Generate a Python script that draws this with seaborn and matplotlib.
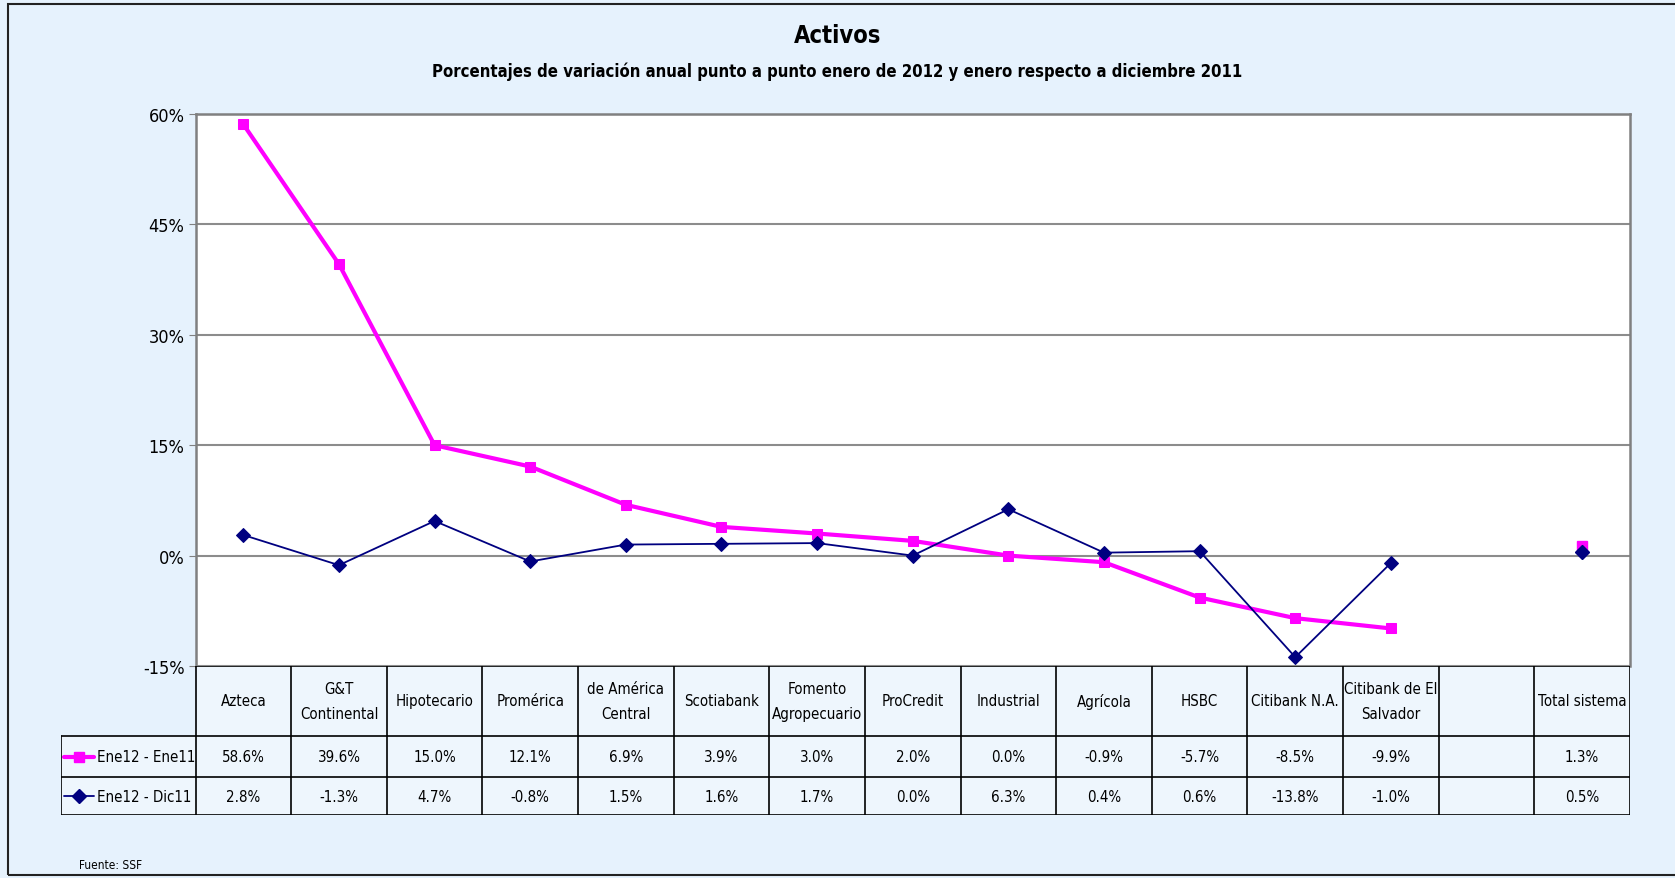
# Activos: variación anual - line chart with data table underneath
import numpy as np
import matplotlib
matplotlib.use("Agg")
import matplotlib.pyplot as plt
import seaborn as sns
from matplotlib.lines import Line2D
from matplotlib.patches import Rectangle
from matplotlib import font_manager

sns.set_style("white")

# pick a narrow font if one is installed
narrow = None
for fam, st in [("Liberation Sans Narrow", "normal"), ("DejaVu Sans", "condensed")]:
    try:
        path = font_manager.findfont(font_manager.FontProperties(family=fam, stretch=st),
                                     fallback_to_default=False)
    except Exception:
        continue
    if "Narrow" in path or "Condensed" in path:
        narrow = (fam, st)
        break
if narrow:
    plt.rcParams['font.family'] = [narrow[0], 'DejaVu Sans']
    plt.rcParams['font.stretch'] = narrow[1]
    scale = 1.0
else:
    plt.rcParams['font.family'] = ['Liberation Sans', 'DejaVu Sans']
    scale = 0.88
plt.rcParams['text.color'] = 'black'
plt.rcParams['ytick.color'] = 'black'

# data
bancos = ["Azteca", "G&T\nContinental", "Hipotecario", "Promérica", "de América\nCentral",
          "Scotiabank", "Fomento\nAgropecuario", "ProCredit", "Industrial", "Agrícola",
          "HSBC", "Citibank N.A.", "Citibank de El\nSalvador", "", "Total sistema"]
ene12_ene11 = [58.6, 39.6, 15.0, 12.1, 6.9, 3.9, 3.0, 2.0, 0.0, -0.9, -5.7, -8.5, -9.9, np.nan, 1.3]
ene12_dic11 = [2.8, -1.3, 4.7, -0.8, 1.5, 1.6, 1.7, 0.0, 6.3, 0.4, 0.6, -13.8, -1.0, np.nan, 0.5]
series_names = ["Ene12 - Ene11", "Ene12 - Dic11"]
yticks = [-15, 0, 15, 30, 45, 60]

magenta = "#FF00FF"
navy = "#000080"
bg = "#e6f2fd"
fs = 10.8 * scale

W, H = 1675, 879
fig = plt.figure(figsize=(W / 100, H / 100), dpi=100)
fig.patch.set_facecolor(bg)

def fx(px):
    return px / W

def fy(py):
    return 1 - py / H

# figure frame
fig.patches.append(Rectangle((fx(8), fy(876)), fx(1675 + 20) - fx(8), fy(5) - fy(876),
                             transform=fig.transFigure, fill=False, edgecolor="#222222",
                             lw=1.5, zorder=0))

# main plot area
left, right, top, bottom = 195.5, 1630, 115, 667
ax = fig.add_axes([fx(left), fy(bottom), fx(right) - fx(left), fy(top) - fy(bottom)])
ax.set_facecolor("white")

x = np.arange(len(bancos))
n_main = 13
sns.lineplot(x=x[:n_main], y=ene12_ene11[:n_main], ax=ax, color=magenta, lw=3,
             marker="s", markersize=7.5, markeredgecolor=magenta, zorder=3)
sns.lineplot(x=x[:n_main], y=ene12_dic11[:n_main], ax=ax, color=navy, lw=1.3,
             marker="D", markersize=7, markeredgecolor=navy, zorder=4)
ax.plot(x[-1], ene12_ene11[-1], marker="s", color=magenta, markersize=7.5, ls="none", zorder=3)
ax.plot(x[-1], ene12_dic11[-1], marker="D", color=navy, markersize=7, ls="none", zorder=4)

ax.set_xlim(-0.5, len(bancos) - 0.5)
ax.set_ylim(-15, 60)
ax.set_yticks(yticks)
ax.set_yticklabels([f"{t}%" for t in yticks], fontsize=13 * scale)
ax.set_xticks([])
ax.yaxis.grid(True, color="#8c8c8c", lw=1.5)
ax.set_axisbelow(True)
ax.tick_params(axis="y", length=5, color="#808080", direction="out", left=True, pad=3)
for side in ["top", "right", "left"]:
    ax.spines[side].set_color("#808080")
    ax.spines[side].set_linewidth(1.8)
ax.spines["bottom"].set_visible(False)

# titles
fig.text(0.5, fy(36), "Activos", ha="center", va="center", fontsize=17 * scale, fontweight="bold")
fig.text(0.5, fy(72), "Porcentajes de variación anual punto a punto enero de 2012 y enero respecto a diciembre 2011",
         ha="center", va="center", fontsize=12 * scale, fontweight="bold")

# data table
tleft = 61
colw = (right - left) / len(bancos)
x0 = -0.5 - (left - tleft) / colw
tax = fig.add_axes([fx(tleft), fy(816), fx(right) - fx(tleft), fy(667) - fy(816)])
tax.set_xlim(x0, len(bancos) - 0.5)
tax.set_ylim(816, 667)
tax.axis("off")

y_head, y_r1, y_r2, y_end = 667, 737, 778, 816
tax.add_patch(Rectangle((-0.5, y_head), len(bancos), y_end - y_head, color="#eef6fd", zorder=0))
tax.add_patch(Rectangle((x0, y_r1), -0.5 - x0, y_end - y_r1, color="#eef6fd", zorder=0))
lc = "black"
tax.plot([-0.5, len(bancos) - 0.5], [y_head, y_head], color=lc, lw=1.2)
for yy in [y_r1, y_r2, y_end]:
    tax.plot([x0, len(bancos) - 0.5], [yy, yy], color=lc, lw=1.2)
for k in range(len(bancos) + 1):
    tax.plot([k - 0.5, k - 0.5], [y_head, y_end], color=lc, lw=1.2)
tax.plot([x0, x0], [y_r1, y_end], color=lc, lw=1.2)

for i, name in enumerate(bancos):
    tax.text(i, (y_head + y_r1) / 2, name, ha="center", va="center", fontsize=fs, linespacing=1.8)
    if not np.isnan(ene12_ene11[i]):
        tax.text(i, (y_r1 + y_r2) / 2, f"{ene12_ene11[i]:.1f}%", ha="center", va="center", fontsize=fs)
    if not np.isnan(ene12_dic11[i]):
        tax.text(i, (y_r2 + y_end) / 2, f"{ene12_dic11[i]:.1f}%", ha="center", va="center", fontsize=fs)

# legend keys in table
px_to_x = 1 / colw
lx0 = x0 + 3 * px_to_x
lx1 = x0 + 33 * px_to_x
for (yy0, yy1), col, mk, lw_, ms, name in [((y_r1, y_r2), magenta, "s", 3, 7.5, series_names[0]),
                                           ((y_r2, y_end), navy, "D", 1.3, 7, series_names[1])]:
    ym = (yy0 + yy1) / 2
    tax.add_line(Line2D([lx0, lx1], [ym, ym], color=col, lw=lw_))
    tax.plot((lx0 + lx1) / 2, ym, marker=mk, color=col, markersize=ms)
    tax.text(lx1 + 3 * px_to_x, ym, name, ha="left", va="center", fontsize=fs)

fig.text(fx(79), fy(866), "Fuente: SSF", ha="left", va="center", fontsize=8.5 * scale)

fig.savefig("out.png", dpi=100, facecolor=fig.get_facecolor())
